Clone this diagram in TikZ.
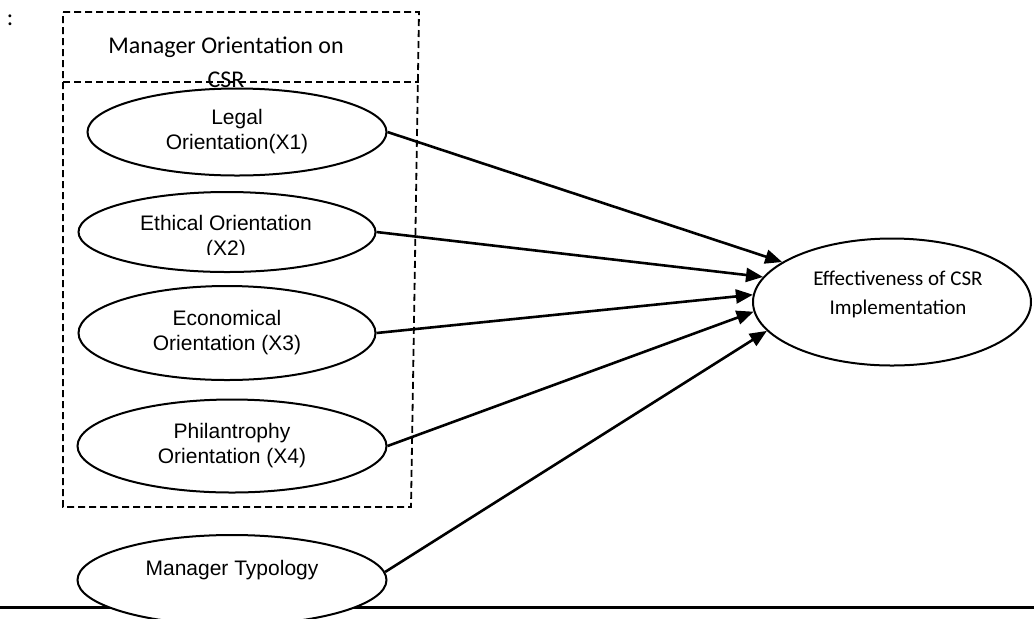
\documentclass[tikz,border=0pt]{standalone}
\usepackage{fontspec}
\setmainfont{Liberation Sans}
\newfontfamily\calibrifont{Carlito}
\usetikzlibrary{positioning, calc, shapes.geometric, arrows.meta}

\begin{document}
\begin{tikzpicture}[x=0.5pt, y=-0.5pt,
        var/.style={draw, ellipse, line width=1pt, fill=white, inner sep=0pt,
            align=center, font=\fontsize{10.5}{12.5}\selectfont},
        vartext/.style={align=center, font=\fontsize{10.5}{12.5}\selectfont},
        link/.style={line width=1.3pt, -{Triangle[length=8.5pt,width=7pt]}},
        dashbox/.style={line width=0.9pt, dash pattern=on 3.5pt off 2pt}]
        \useasboundingbox (0,0) rectangle (1034,618);

        % the orientation box
        \draw[dashbox] (63,12) -- (419,12) -- (411,507) -- (63,507) -- cycle;
        \draw[dashbox] (63,82) -- (419,82);
        \node[font=\calibrifont\fontsize{12}{14}\selectfont] (colon) at (10,20) {:};

        % the four orientations
        \node[var, minimum width=149.5pt, minimum height=43.5pt] (legal) at (237,132) {Legal\\Orientation(X1)};
        \node[var, minimum width=148.5pt, minimum height=40pt] (ethical) at (227,232) {};
        \begin{scope}
            \clip (60,190) rectangle (400,254);
            \node[vartext] (ethicaltext) at (226,238) {Ethical Orientation\\(X2)};
        \end{scope}
        \node[var, minimum width=148.5pt, minimum height=47pt] (econ) at (227,333) {Economical\\Orientation (X3)};
        \node[var, minimum width=154.5pt, minimum height=46.5pt] (phil) at (232,446) {Philantrophy\\Orientation (X4)};

        % box title, over the top ellipse
        \node[align=center, font=\calibrifont\fontsize{12}{17}\selectfont] (title) at (226,62) {Manager Orientation on\\CSR};

        % bottom rule, with the typology over it
        \coordinate (ruleL) at (0,607);
        \coordinate (ruleR) at (1034,607);
        \draw[line width=1.5pt] (ruleL) -- (ruleR);
        \node[var, minimum width=154.5pt, minimum height=45pt] (typ) at (232,580) {};
        \node[vartext] (typtext) at (232,570) {Manager Typology};

        % the outcome
        \node[var, minimum width=139pt, minimum height=63.5pt] (eff) at (892,302) {};
        \node[align=center, font=\calibrifont\fontsize{10.5}{14.5}\selectfont] (efftext) at (898,294) {Effectiveness of CSR\\Implementation};

        % the arrows
        \draw[link] (legal.east) -- (eff.160.8);
        \draw[link] (ethical.east) -- (eff.169.9);
        \draw[link] (econ.east) -- (eff.177.1);
        \draw[link] (phil.east) -- (eff.184.5);
        \draw[link] (typ.3) -- (eff.193.7);
    \end{tikzpicture}
\end{document}
